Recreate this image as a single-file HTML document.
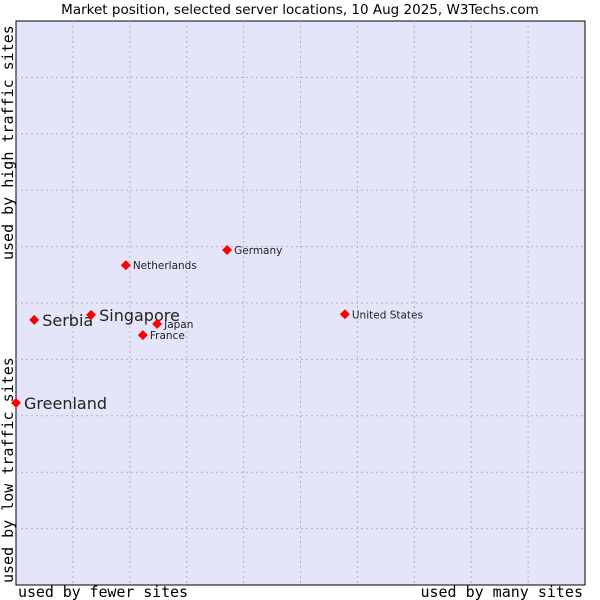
<!DOCTYPE html>
<html><head><meta charset="utf-8"><style>
body{margin:0;background:#fff;width:600px;height:600px;overflow:hidden}
svg{display:block}
</style></head><body>
<svg id="chart" width="600" height="600" xmlns="http://www.w3.org/2000/svg">
<text x="300" y="14" text-anchor="middle" font-family="DejaVu Sans, sans-serif" font-size="13.5" fill="#000">Market position, selected server locations, 10 Aug 2025, W3Techs.com</text>
<rect x="16" y="21" width="569" height="564" fill="#e4e5f8" stroke="#000" stroke-width="1"/>
<g id="grid"></g>
<g id="points"></g>
<text x="18" y="597" font-family="DejaVu Sans Mono, Liberation Mono, monospace" font-size="15" textLength="170">used by fewer sites</text>
<text x="583" y="597" text-anchor="end" font-family="DejaVu Sans Mono, Liberation Mono, monospace" font-size="15">used by many sites</text>
<text transform="translate(13,583) rotate(-90)" font-family="DejaVu Sans Mono, Liberation Mono, monospace" font-size="15">used by low traffic sites</text>
<text transform="translate(13,260) rotate(-90)" font-family="DejaVu Sans Mono, Liberation Mono, monospace" font-size="15">used by high traffic sites</text>
</svg>
<script>
const names=["Greenland","Serbia","Singapore","Netherlands","Germany","Japan","France","United States"];
const xVals=[0,3.2,13.2,19.3,37.1,24.8,22.3,57.8];
const yVals=[32.3,47.0,47.9,56.7,59.4,46.3,44.3,48.0];
const bigLabel=[true,true,true,false,false,false,false,false];
const L=16,T=21,W=569,H=564;
const sx=v=>L+v/100*W, sy=v=>T+H-v/100*H;
const NS="http://www.w3.org/2000/svg";
const g=document.getElementById('grid');
for(let i=1;i<10;i++){
 const a=document.createElementNS(NS,'line');
 a.setAttribute('x1',sx(i*10));a.setAttribute('x2',sx(i*10));a.setAttribute('y1',T);a.setAttribute('y2',T+H);
 a.setAttribute('stroke','#b4b4b4');a.setAttribute('stroke-dasharray','2,3');
 
 
 g.appendChild(a);
 const b=document.createElementNS(NS,'line');
 b.setAttribute('y1',sy(i*10));b.setAttribute('y2',sy(i*10));b.setAttribute('x1',L);b.setAttribute('x2',L+W);
 b.setAttribute('stroke','#b4b4b4');b.setAttribute('stroke-dasharray','2,3');
 
 
 g.appendChild(b);
}
const p=document.getElementById('points');
names.forEach((n,i)=>{
 const x=sx(xVals[i]),y=sy(yVals[i]);
 const d=document.createElementNS(NS,'path');
 d.setAttribute('d',`M${x-5},${y}L${x},${y-5}L${x+5},${y}L${x},${y+5}Z`);
 d.setAttribute('fill','#f00');
 
 
 p.appendChild(d);
 const t=document.createElementNS(NS,'text');
 t.setAttribute('x',x+(bigLabel[i]?8:7));
 t.setAttribute('y',y+(bigLabel[i]?6:4));
 t.setAttribute('font-family','DejaVu Sans, sans-serif');
 t.setAttribute('font-size',bigLabel[i]?'16':'10.5');
 t.setAttribute('fill','#222');
 t.textContent=n;
 
 
 p.appendChild(t);
});
</script>
</body></html>
